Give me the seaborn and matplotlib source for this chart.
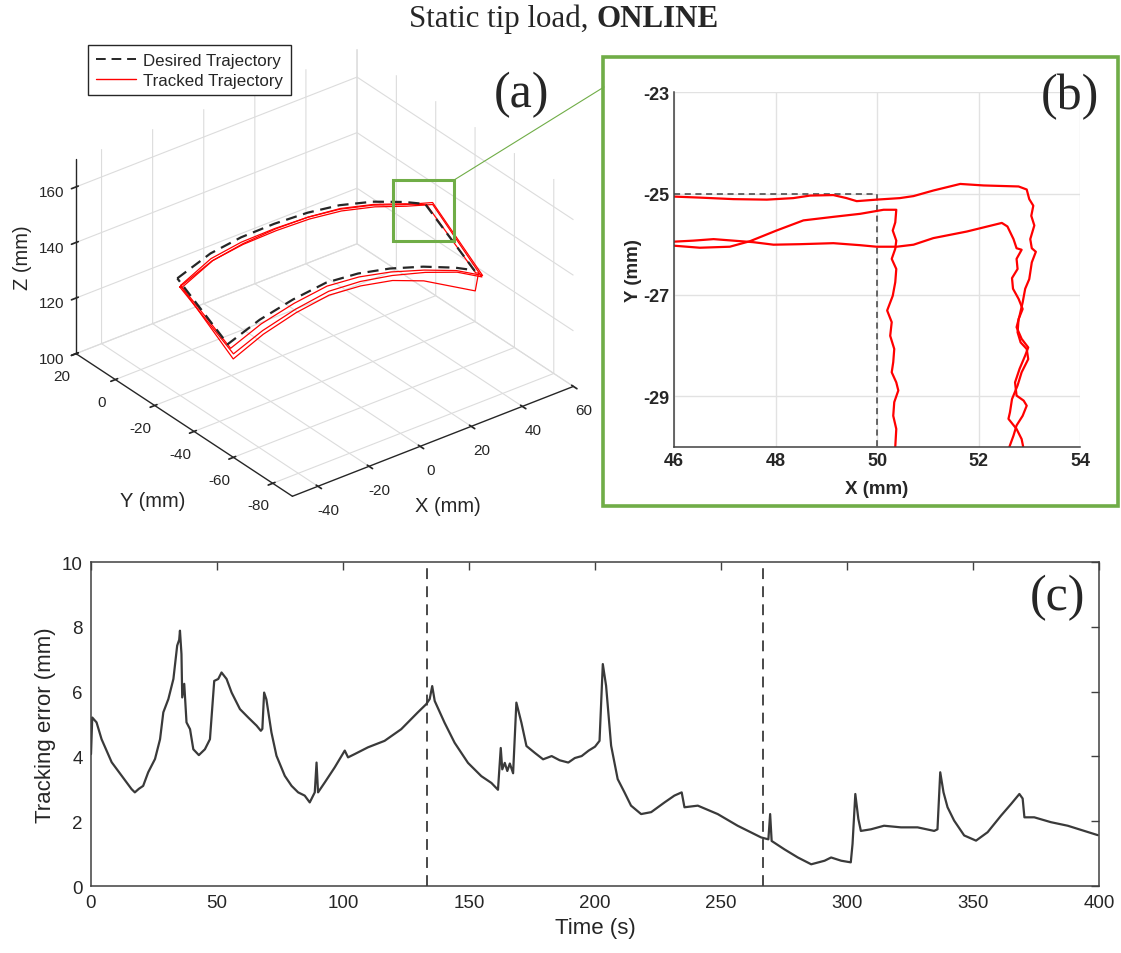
import numpy as np
import pandas as pd
import matplotlib
matplotlib.use('Agg')
import matplotlib.pyplot as plt
import seaborn as sns
from matplotlib.lines import Line2D
from matplotlib.patches import Rectangle
from mpl_toolkits.mplot3d import proj3d

# ---------------- data: panel (a) 3D trajectories ----------------
des_up_x = [-45, -32, -20, -7, 6, 18.5, 31.5, 44, 52]
des_up_z = [146.3, 150.6, 152.1, 152.3, 151.6, 149.8, 146.4, 141.8, 138.2]
des_up_y = -25
des_lo_x = [52, 44.6, 32, 19, 6.5, -6, -19, -32, -44.5]
des_lo_z = [126.0, 129.6, 134.5, 138.5, 141.2, 142.4, 141.0, 138.4, 134.1]
des_lo_y = -50

trk1_x = [-44, -32, -20, -7, 6, 18.5, 31.5, 44, 55, 55, 44.6, 32, 19, 6.5, -6, -19, -32, -44, -44]
trk1_y = [-25.4, -25.2, -25.1, -25.1, -25.1, -25.1, -25.1, -25.1, -24.9, -50.3, -50.5, -50.5,
          -50.5, -50.5, -50.5, -50.6, -50.7, -50.8, -25.4]
trk1_z = [143.6, 148.8, 150.4, 150.6, 150.0, 148.4, 145.2, 140.9, 137.6, 123.2, 128.8, 133.5,
          137.5, 140.2, 141.4, 139.9, 137.2, 132.8, 143.6]
trk2_x = [-44.5, -32, -20, -7, 6, 18.5, 31.5, 44, 54.5, 54.5, 44.6, 32, 19, 6.5, -6, -19, -32,
          -43.5, -44.5]
trk2_y = [-25.6, -25.9, -26.0, -26.0, -26.0, -26.0, -26.0, -25.9, -25.6, -50.6, -50.9, -51.0,
          -51.1, -51.2, -51.3, -51.4, -51.5, -51.6, -25.6]
trk2_z = [143.3, 148.4, 150.0, 150.3, 149.8, 148.2, 145.0, 140.7, 137.4, 123.0, 128.4, 132.9,
          136.5, 138.9, 139.9, 138.2, 135.2, 131.0, 143.3]
trk3_x = [-44, -32, -20, -7, 6, 18.5, 31.5, 44, 52.4, 52.4, 53.5, 51.6, 31.3, 19, 6.5, -6, -19,
          -32, -43.9, -44]
trk3_y = [-26.0, -26.1, -26.0, -25.7, -25.5, -25.4, -25.4, -25.3, -25.3, -50.2, -50.2, -51.0,
          -51.2, -51.3, -51.4, -51.5, -51.6, -51.8, -52.0, -26.0]
trk3_z = [143.1, 148.5, 150.3, 150.8, 150.3, 148.8, 145.6, 141.3, 137.9, 125.0, 124.6, 119.2,
          130.2, 134.8, 137.4, 138.6, 137.0, 134.0, 129.5, 143.1]

# ---------------- data: panel (b) zoomed corner ----------------
zoom_des_x = [46, 50, 50]
zoom_des_y = [-25, -25, -30]
zb1_x = [46.0, 46.51, 47.17, 47.83, 48.35, 48.68, 49.14, 49.40, 49.60, 49.99, 50.45, 50.72, 51.11,
         51.64, 52.10, 52.79, 52.95, 53.00, 53.08, 53.04, 53.10, 53.02, 53.05, 53.13, 53.05, 53.00,
         52.92, 52.87, 52.81, 52.75, 52.85, 52.98, 52.92, 52.81, 52.72, 52.75, 52.89, 52.95, 52.87,
         52.75, 52.69, 52.61]
zb1_y = [-25.06, -25.08, -25.11, -25.12, -25.09, -25.04, -25.03, -25.09, -25.15, -25.12, -25.09,
         -25.05, -24.94, -24.81, -24.84, -24.86, -24.92, -25.11, -25.24, -25.44, -25.63, -25.90,
         -26.08, -26.15, -26.36, -26.69, -26.88, -27.15, -27.41, -27.64, -27.87, -28.04, -28.20,
         -28.46, -28.73, -28.99, -29.09, -29.19, -29.39, -29.58, -29.78, -30.0]
zb2_x = [46.0, 46.38, 46.78, 47.17, 47.56, 47.96, 48.48, 49.14, 49.67, 49.99, 50.39, 50.72, 51.11,
         51.77, 52.46, 52.57, 52.69, 52.75, 52.85, 52.75, 52.77, 52.66, 52.68, 52.79, 52.87, 52.79,
         52.77, 52.83, 52.95, 52.98, 52.85, 52.77, 52.66, 52.62, 52.59, 52.75, 52.85, 52.88]
zb2_y = [-25.95, -25.93, -25.90, -25.93, -25.96, -26.01, -26.00, -25.98, -26.02, -26.05, -26.05,
         -26.01, -25.88, -25.75, -25.58, -25.65, -25.90, -26.08, -26.11, -26.29, -26.49, -26.67,
         -26.88, -27.08, -27.28, -27.48, -27.74, -27.94, -28.07, -28.27, -28.53, -28.79, -29.06,
         -29.32, -29.45, -29.65, -29.85, -30.0]
zb3_x = [46.0, 46.51, 47.10, 47.50, 48.02, 48.55, 49.14, 49.67, 50.13, 50.38, 50.36, 50.31, 50.38,
         50.36, 50.29, 50.38, 50.36, 50.31, 50.20, 50.29, 50.26, 50.34, 50.32, 50.29, 50.38, 50.42,
         50.34, 50.32, 50.38, 50.36]
zb3_y = [-26.03, -26.07, -26.05, -25.94, -25.73, -25.53, -25.46, -25.40, -25.32, -25.32, -25.57,
         -25.73, -25.93, -26.09, -26.29, -26.49, -26.75, -27.02, -27.31, -27.54, -27.81, -28.07,
         -28.33, -28.53, -28.73, -28.89, -29.12, -29.39, -29.65, -30.0]

# ---------------- data: panel (c) tracking error ----------------
time_s = [0.0, 0.5, 2.2, 4.2, 8.2, 12.2, 16.1, 17.4, 19.0, 20.7, 22.7, 25.4, 27.4, 28.7, 30.7, 32.7,
          34.2, 35.0, 35.3, 35.9, 36.2, 37.0, 37.9, 39.3, 40.6, 42.8, 45.2, 47.2, 48.9, 50.5, 51.8,
          53.8, 55.8, 59.1, 62.4, 65.7, 67.4, 68.0, 68.7, 69.6, 71.6, 73.6, 76.9, 79.6, 82.2, 84.8,
          86.8, 88.8, 89.5, 90.1, 92.8, 96.7, 98.7, 100.7, 102.0, 104.6, 109.9, 116.5, 123.1, 129.7,
          133.0, 134.4, 135.4, 136.4, 140.3, 144.3, 149.6, 154.9, 158.9, 161.5, 162.6, 163.2, 164.2,
          165.2, 166.2, 167.5, 168.8, 170.8, 172.8, 176.1, 179.4, 182.8, 186.0, 189.4, 192.0, 194.7,
          197.5, 200.0, 201.8, 203.1, 204.4, 206.4, 209.0, 211.7, 214.3, 218.3, 222.3, 227.6, 231.5,
          234.4, 235.5, 240.8, 248.7, 256.6, 265.9, 268.8, 269.5, 270.1, 275.2, 280.5, 285.8, 291.1,
          293.7, 297.7, 301.5, 302.2, 303.3, 304.5, 305.5, 309.5, 314.7, 321.4, 328.0, 334.6, 335.9,
          337.0, 338.3, 339.9, 342.5, 346.5, 351.2, 355.8, 361.1, 365.1, 368.4, 369.7, 370.4, 374.3,
          380.9, 387.6, 394.2, 399.5]
error_mm = [4.07, 5.20, 5.05, 4.53, 3.82, 3.40, 2.99, 2.89, 3.00, 3.09, 3.51, 3.92, 4.53, 5.36, 5.77,
            6.39, 7.42, 7.60, 7.88, 7.16, 5.82, 6.24, 5.05, 4.84, 4.22, 4.04, 4.22, 4.53, 6.33, 6.39,
            6.59, 6.39, 5.97, 5.46, 5.20, 4.95, 4.79, 4.85, 5.97, 5.76, 4.74, 4.02, 3.40, 3.09, 2.89,
            2.79, 2.58, 2.89, 3.81, 2.89, 3.20, 3.66, 3.92, 4.18, 3.97, 4.07, 4.28, 4.48, 4.84, 5.36,
            5.61, 5.77, 6.17, 5.71, 5.04, 4.42, 3.80, 3.39, 3.18, 2.97, 4.26, 3.60, 3.80, 3.55, 3.78,
            3.48, 5.66, 5.04, 4.32, 4.11, 3.91, 4.01, 3.88, 3.81, 3.95, 4.01, 4.18, 4.30, 4.48, 6.85,
            6.18, 4.33, 3.30, 2.89, 2.48, 2.22, 2.28, 2.58, 2.79, 2.89, 2.43, 2.48, 2.22, 1.86, 1.50,
            1.44, 2.22, 1.39, 1.13, 0.88, 0.67, 0.78, 0.88, 0.78, 0.73, 1.30, 2.84, 2.07, 1.70, 1.75,
            1.86, 1.81, 1.81, 1.70, 1.75, 3.51, 2.89, 2.43, 2.02, 1.56, 1.40, 1.66, 2.17, 2.53, 2.84,
            2.70, 2.12, 2.12, 1.97, 1.86, 1.70, 1.57]
phase_bounds = [133.33, 266.67]

# ---------------- style ----------------
sns.set_theme(style='white')
plt.rcParams['font.family'] = ['Liberation Sans', 'DejaVu Sans']
plt.rcParams['axes.unicode_minus'] = False
W, H = 1121, 954
fig = plt.figure(figsize=(W / 100, H / 100), dpi=100)
fig.patch.set_facecolor('white')
DARK = '#262626'
LINE = '#3a3a3a'
GREEN = '#70ad47'
SERIF = ['Liberation Serif', 'DejaVu Serif']


def fx(px):
    return px / W


def fy(py):
    return 1 - py / H


# ---------------- panel (c) ----------------
axc = fig.add_axes([fx(91), fy(887), (1099 - 91) / W, (887 - 563) / H])
dfc = pd.DataFrame({'t': time_s, 'e': error_mm})
sns.lineplot(data=dfc, x='t', y='e', ax=axc, color=LINE, lw=1.6, sort=False, estimator=None)
for v in phase_bounds:
    axc.axvline(v, color=LINE, ls=(0, (6, 4)), lw=1.3)
axc.set_xlim(0, 400)
axc.set_ylim(0, 10)
axc.set_xticks(range(0, 401, 50))
axc.set_yticks(range(0, 11, 2))
axc.tick_params(direction='in', top=True, right=True, length=6, width=1, labelsize=13.5,
                labelcolor=DARK, color='#404040', pad=6)
for t in axc.yaxis.get_major_ticks():
    t.tick2line.set_color('#c8c8c8')
for s in axc.spines.values():
    s.set_color('#404040')
    s.set_linewidth(1.1)
axc.set_xlabel('Time (s)', fontsize=16, color=DARK, labelpad=4)
axc.set_ylabel('Tracking error (mm)', fontsize=16, color=DARK, labelpad=4)
fig.text(fx(1058), fy(598), '(c)', family=SERIF, fontsize=36, ha='center', va='center')

# ---------------- panel (b) ----------------
axb = fig.add_axes([fx(674), fy(447.7), (1080 - 674) / W, (447.7 - 93.3) / H])
sns.lineplot(x=zoom_des_x, y=zoom_des_y, ax=axb, color='#404040', lw=1.1, ls=(0, (4, 3)),
             sort=False, estimator=None)
for px_, py_ in [(zb1_x, zb1_y), (zb2_x, zb2_y), (zb3_x, zb3_y)]:
    sns.lineplot(x=px_, y=py_, ax=axb, color='#ff0000', lw=1.6, sort=False, estimator=None)
axb.set_xlim(46, 54)
axb.set_ylim(-30, -23)
axb.set_xticks([46, 48, 50, 52, 54])
axb.set_yticks([-29, -27, -25, -23])
axb.grid(True, color='#e2e2e2', lw=1)
axb.set_axisbelow(True)
for k in ['top', 'right']:
    axb.spines[k].set_visible(False)
for k in ['left', 'bottom']:
    axb.spines[k].set_color('#404040')
    axb.spines[k].set_linewidth(1.1)
axb.tick_params(direction='in', length=4, width=1, labelsize=13, labelcolor=DARK, color='#404040')
for lbl in axb.get_xticklabels() + axb.get_yticklabels():
    lbl.set_fontweight('bold')
axb.set_xlabel('X (mm)', fontsize=13.5, fontweight='bold', color=DARK, labelpad=8)
axb.set_ylabel('Y (mm)', fontsize=13.5, fontweight='bold', color=DARK, labelpad=1)
fig.text(fx(1070), fy(97), '(b)', family=SERIF, fontsize=36, ha='center', va='center')
fig.add_artist(Rectangle((fx(603), fy(507)), (1118 - 603) / W, (507 - 58) / H,
                         transform=fig.transFigure, fill=False, edgecolor=GREEN, lw=2.6))

# ---------------- panel (a) ----------------
ax3 = fig.add_axes([fx(11), fy(548), 613 / W, 534 / H], projection='3d', proj_type='ortho')
ax3.set_box_aspect((110, 110, 70))
ax3.view_init(elev=30.5, azim=-127.6)
des_x = des_up_x + des_lo_x + [des_up_x[0]]
des_y = [des_up_y] * len(des_up_x) + [des_lo_y] * len(des_lo_x) + [des_up_y]
des_z = des_up_z + des_lo_z + [des_up_z[0]]
for tx, ty, tz in [(trk1_x, trk1_y, trk1_z), (trk2_x, trk2_y, trk2_z), (trk3_x, trk3_y, trk3_z)]:
    ax3.plot(tx, ty, tz, color='#ff0000', lw=0.9)
ax3.plot(des_x, des_y, des_z, color=DARK, ls=(0, (5, 3)), lw=1.6)
ax3.set_xlim(-50, 60)
ax3.set_ylim(-90, 20)
ax3.set_zlim(100, 170)
ax3.set_xticks([-40, -20, 0, 20, 40, 60])
ax3.set_yticks([-80, -60, -40, -20, 0, 20])
ax3.set_zticks([100, 120, 140, 160])
for axis in (ax3.xaxis, ax3.yaxis, ax3.zaxis):
    axis.set_pane_color((1, 1, 1, 0))
    axis.pane.set_edgecolor('#dcdcdc')
    axis._axinfo['grid'].update(color='#dcdcdc', linewidth=0.8)
    axis.line.set_color(DARK)
    axis.line.set_linewidth(1.0)
ax3.tick_params(labelsize=11, labelcolor=DARK, pad=2)
ax3.set_facecolor((1, 1, 1, 0))
fig.text(fx(448), fy(507), 'X (mm)', fontsize=14.5, color=DARK, ha='center', va='center')
fig.text(fx(153), fy(502), 'Y (mm)', fontsize=14.5, color=DARK, ha='center', va='center')
fig.text(fx(22), fy(258), 'Z (mm)', fontsize=14.5, color=DARK, ha='center', va='center',
         rotation=90)
fig.text(fx(521), fy(95), '(a)', family=SERIF, fontsize=36, ha='center', va='center')

handles = [Line2D([], [], color=DARK, ls=(0, (5, 3)), lw=1.4),
           Line2D([], [], color='#ff0000', lw=1.0)]
fig.legend(handles, ['Desired Trajectory', 'Tracked Trajectory'], loc='upper left',
           bbox_to_anchor=(fx(88), fy(46)), bbox_transform=fig.transFigure, fontsize=12.2,
           frameon=True, fancybox=False, edgecolor=DARK, framealpha=1, borderpad=0.45,
           handlelength=2.4, handletextpad=0.4, labelspacing=0.3, borderaxespad=0)

# title
tb = fy(27)
fig.text(fx(596), tb, 'Static tip load, ', family=SERIF, fontsize=22.3, ha='right', va='baseline')
fig.text(fx(596), tb, 'ONLINE', family=SERIF, fontsize=22.3, fontweight='bold', ha='left',
         va='baseline')

# zoom box on the 3D corner and the connecting line
fig.canvas.draw()
px2, py2, _ = proj3d.proj_transform(des_up_x[-1], des_up_y, des_up_z[-1], ax3.get_proj())
cx, cy = ax3.transData.transform((px2, py2))
box_l, box_r = cx - 32, cx + 29
box_t, box_b = cy + 24, cy - 37
fig.add_artist(Rectangle((box_l / W, box_b / H), (box_r - box_l) / W, (box_t - box_b) / H,
                         transform=fig.transFigure, fill=False, edgecolor=GREEN, lw=2.2))
fig.add_artist(Line2D([box_r / W, fx(604)], [box_t / H, fy(88)], transform=fig.transFigure,
                      color=GREEN, lw=0.8))

fig.savefig('out.png', dpi=100, facecolor='white')
